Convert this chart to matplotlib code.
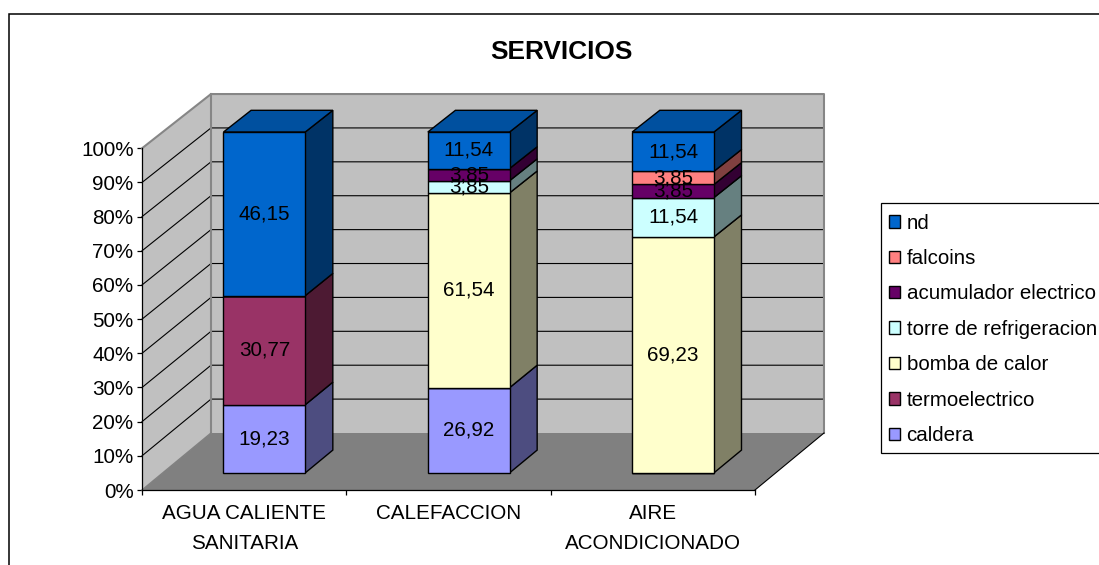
import matplotlib
matplotlib.use("Agg")
import matplotlib.pyplot as plt
from matplotlib.patches import Polygon, Rectangle
from matplotlib.legend_handler import HandlerPatch
from matplotlib.ticker import FuncFormatter
import numpy as np

plt.rcParams['font.family'] = ['Liberation Sans', 'DejaVu Sans']

categories = ["AGUA CALIENTE\nSANITARIA", "CALEFACCION", "AIRE\nACONDICIONADO"]
series_names = ["caldera", "termoelectrico", "bomba de calor", "torre de refrigeracion",
                "acumulador electrico", "falcoins", "nd"]
caldera = [19.23, 26.92, 0]
termoelectrico = [30.77, 0, 0]
bomba_de_calor = [0, 61.54, 69.23]
torre_de_refrigeracion = [0, 3.85, 11.54]
acumulador_electrico = [0, 3.85, 3.85]
falcoins = [0, 0, 3.85]
nd = [46.15, 11.54, 11.54]
series_values = [caldera, termoelectrico, bomba_de_calor, torre_de_refrigeracion,
                 acumulador_electrico, falcoins, nd]
series_colors = ["#9999FF", "#993366", "#FFFFCC", "#CCFFFF", "#660066", "#FF8080", "#0066CC"]
value_ticks = list(range(0, 101, 10))

W, H = 1099, 565
FS = 14.9
LEG_FS = 14.75
PX_X = 204.33   # pixels per category
PX_Y = 3.417    # pixels per percent
DX = 69 / PX_X  # full floor depth, in x units
DY = 57 / PX_Y  # full floor depth, in y units
BAR_W = 0.40
D_FRONT, D_BACK = 0.30, 0.70
BAR_SHIFT = -0.5 / PX_X


def proj(x, v, d):
    """Project a point at depth d (0 front, 1 back wall) onto the screen."""
    return x + d * DX, v * (1 - 0.008 * d) + d * DY


def shade(color, f):
    rgb = np.array(matplotlib.colors.to_rgb(color)) * f
    return tuple(rgb)


fig = plt.figure(figsize=(W / 100, H / 100), dpi=100)
ax = fig.add_axes([0, 0, 1, 1])
ax.set_xlim(-142 / PX_X - 0.5, (W - 142) / PX_X - 0.5)
ax.set_ylim((490 - H) / PX_Y, 490 / PX_Y)
ax.set_facecolor("white")

L, R = -0.5, len(categories) - 0.5
WALL_EDGE = "#868686"

# walls and floor
ax.add_patch(Polygon([proj(L, 0, 0), proj(L, 0, 1), proj(R, 0, 1), proj(R, 0, 0)],
                     fc="#808080", ec="none", zorder=1))
ax.add_patch(Polygon([proj(L, 0, 0), proj(L, 100, 0), proj(L, 100, 1), proj(L, 0, 1)],
                     fc="#C0C0C0", ec="none", zorder=1))
ax.add_patch(Polygon([proj(L, 0, 1), proj(L, 100, 1), proj(R, 100, 1), proj(R, 0, 1)],
                     fc="#C0C0C0", ec="none", zorder=1))
for v in value_ticks[1:-1]:
    a, b, c = proj(L, v, 0), proj(L, v, 1), proj(R, v, 1)
    ax.plot([a[0], b[0], c[0]], [a[1], b[1], c[1]], color="black", lw=0.8, zorder=1.5,
            solid_joinstyle="miter")
a, b, c = proj(L, 100, 0), proj(L, 100, 1), proj(R, 100, 1)
d = proj(R, 0, 1)
ax.plot([a[0], b[0], c[0], d[0]], [a[1], b[1], c[1], d[1]], color=WALL_EDGE, lw=1.5, zorder=1.6)
e, f = proj(L, 100, 1), proj(L, 0, 1)
ax.plot([e[0], f[0]], [e[1], f[1]], color=WALL_EDGE, lw=1.5, zorder=1.6)
g, h = proj(L, 0, 0), proj(L, 0, 1)
ax.plot([g[0], h[0]], [g[1], h[1]], color="#808080", lw=1.0, zorder=1.6)
i0, i1 = proj(R, 0, 0), proj(R, 0, 1)
ax.plot([i0[0], i1[0]], [i0[1], i1[1]], color="#000000", lw=0.8, zorder=1.6)

# stacked 100 % bars
xs = np.arange(len(categories)) + BAR_SHIFT
vals = np.array(series_values, dtype=float)
totals = vals.sum(axis=0)
pct = vals / totals * 100
bottom = np.zeros(len(categories))
handles = []
sq = 1 - 0.008 * D_FRONT
for k, name in enumerate(series_names):
    color = series_colors[k]
    x0, _ = proj(xs, 0, D_FRONT)
    _, y0 = proj(xs, bottom, D_FRONT)
    cont = ax.bar(x0, pct[k] * sq, BAR_W, bottom=y0, color=color, edgecolor="black",
                  linewidth=1.0, label=name, zorder=3)
    handles.append(cont[0])
    for j in range(len(categories)):
        if vals[k, j] <= 0:
            continue
        b, t = bottom[j], bottom[j] + pct[k, j]
        xr = xs[j] + BAR_W / 2
        ax.add_patch(Polygon([proj(xr, b, D_FRONT), proj(xr, t, D_FRONT),
                              proj(xr, t, D_BACK), proj(xr, b, D_BACK)],
                             fc=shade(color, 0.5), ec="black", lw=1.0, zorder=2.5))
        if t >= 99.999:
            xl = xs[j] - BAR_W / 2
            ax.add_patch(Polygon([proj(xl, t, D_FRONT), proj(xr, t, D_FRONT),
                                  proj(xr, t, D_BACK), proj(xl, t, D_BACK)],
                                 fc=shade(color, 0.78), ec="black", lw=1.0, zorder=2.5))
    bottom = bottom + pct[k]

# data labels, on top of every face
bottom = np.zeros(len(categories))
for k in range(len(series_names)):
    for j in range(len(categories)):
        if vals[k, j] > 0:
            px, py = proj(xs[j], bottom[j] + pct[k, j] / 2, D_FRONT)
            ax.text(px, py, f"{vals[k, j]:.2f}".replace(".", ","), ha="center", va="center",
                    fontsize=FS, color="black", zorder=5)
    bottom = bottom + pct[k]

# axes
for s in ("top", "right"):
    ax.spines[s].set_visible(False)
ax.spines["left"].set_position(("data", L))
ax.spines["left"].set_bounds(0, 100)
ax.spines["bottom"].set_position(("data", 0))
ax.spines["bottom"].set_bounds(L, R)
for s in ("left", "bottom"):
    ax.spines[s].set_linewidth(0.9)
ax.set_yticks(value_ticks)
ax.yaxis.set_major_formatter(FuncFormatter(lambda v, _: f"{v:.0f}%"))
ax.set_xticks(np.arange(L, R + 0.1, 1))
ax.set_xticklabels([])
ax.set_xticks(np.arange(len(categories)), minor=True)
ax.set_xticklabels(categories, minor=True, fontsize=FS, linespacing=1.74)
ax.tick_params(axis="y", labelsize=FS, length=3.5, width=0.9, pad=2.6)
ax.tick_params(axis="x", which="major", length=3.5, width=0.9)
ax.tick_params(axis="x", which="minor", length=0, pad=10)

ax.set_title("SERVICIOS", fontsize=18.9, fontweight="bold", x=561 / W, y=1 - 52 / H,
             va="center", pad=0)

# legend: box drawn separately so its height matches the reference
fig.add_artist(Rectangle((881 / W, 1 - 453 / H), 0.3, 250 / H, transform=fig.transFigure,
                         fc="white", ec="black", lw=0.9, zorder=5))
leg = ax.legend(handles[::-1], series_names[::-1], loc="upper left",
                bbox_to_anchor=(881 / W, 1 - 203 / H), bbox_transform=fig.transFigure,
                fontsize=LEG_FS, frameon=False,
                borderaxespad=0, borderpad=0.52, labelspacing=0.80,
                handlelength=0.416, handleheight=0.56, handletextpad=0.31,
                handler_map={Rectangle: HandlerPatch(xpad=-0.134)})
leg.remove()
fig.add_artist(leg)
leg.set_zorder(6)

# chart frame (runs past the right and bottom edges, as in the source image)
fig.add_artist(Rectangle((9 / W, -0.1), 1.2, 1 - 14 / H + 0.1, transform=fig.transFigure,
                         fill=False, ec="black", lw=1.1, zorder=7))

fig.savefig("out.png", dpi=100)
